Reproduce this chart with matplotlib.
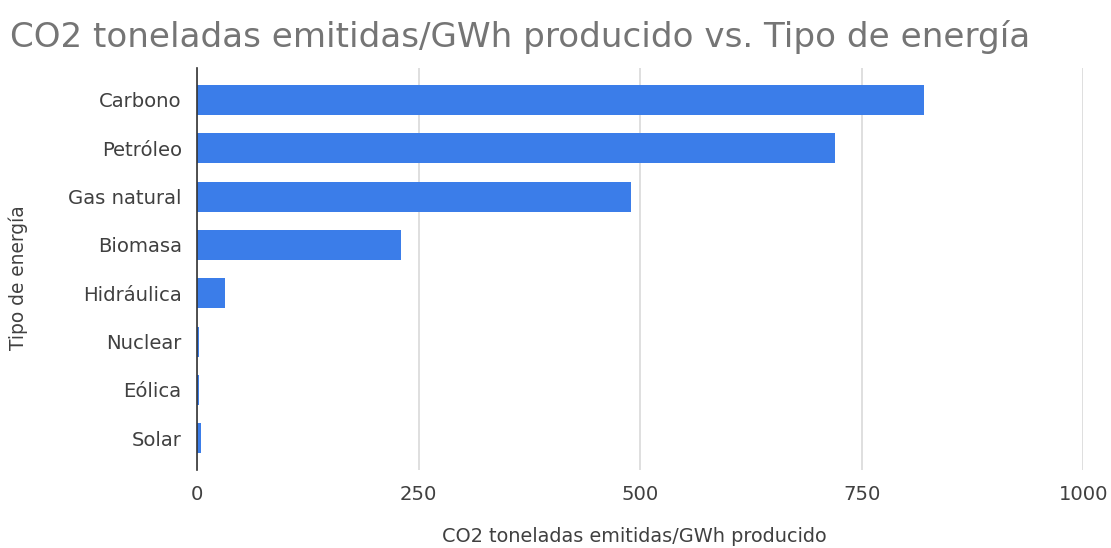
import matplotlib.pyplot as plt

# data
tipos = ["Carbono", "Petróleo", "Gas natural", "Biomasa", "Hidráulica", "Nuclear", "Eólica", "Solar"]
co2_gwh = [820, 720, 490, 230, 32, 2, 2, 4]
xticks = [0, 250, 500, 750, 1000]

plt.rcParams['font.family'] = ['DejaVu Sans']

fig = plt.figure(figsize=(11.11, 5.48), dpi=100)
ax = fig.add_axes([0.1773, 0.142, 0.975 - 0.1773, 0.876 - 0.142])

pos = list(range(len(tipos)))
ax.barh(pos, co2_gwh, height=0.62, color='#3b7de9', zorder=3)

ax.set_xlim(0, 1000)
ax.set_ylim(len(tipos) - 0.34, -0.66)
ax.set_xticks(xticks)
ax.set_xticklabels([str(t) for t in xticks])
ax.set_yticks(pos)
ax.set_yticklabels(tipos)
ax.tick_params(axis='both', length=0, labelsize=14.1, colors='#404040')
ax.tick_params(axis='x', pad=11)
ax.tick_params(axis='y', pad=11)

ax.grid(axis='x', color='#d9d9d9', linewidth=1.2, zorder=0)
for s in ['top', 'right', 'bottom']:
    ax.spines[s].set_visible(False)
ax.spines['left'].set_color('#333333')
ax.spines['left'].set_linewidth(1.2)
ax.spines['left'].set_zorder(4)

fig.text(0.571, 1 - 537 / 548, "CO2 toneladas emitidas/GWh producido",
         fontsize=13.9, color='#404040', ha='center', va='center')
fig.text(18 / 1111, 1 - 278 / 548, "Tipo de energía", rotation=90,
         fontsize=13.4, color='#404040', ha='center', va='center')

fig.text(0.009, 1 - 37 / 548, "CO2 toneladas emitidas/GWh producido vs. Tipo de energía",
         fontsize=24.6, color='#757575', va='center', ha='left')

fig.savefig('out.png', dpi=100)
